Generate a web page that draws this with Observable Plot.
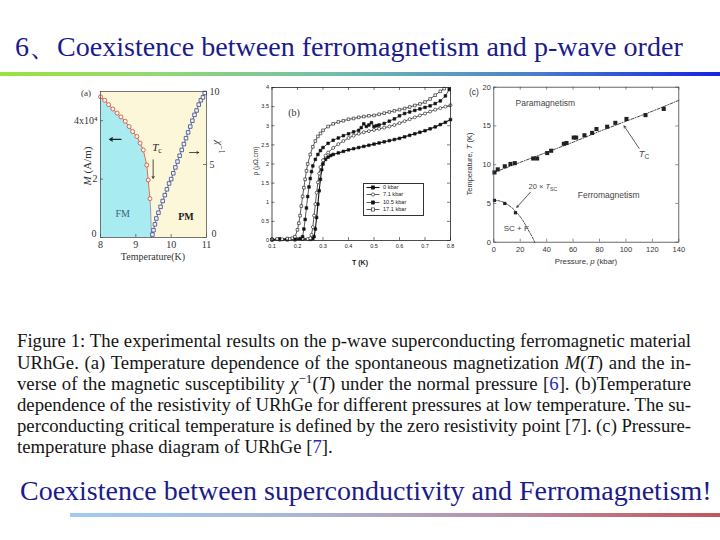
<!DOCTYPE html>
<html><head><meta charset="utf-8">
<script src="https://cdn.jsdelivr.net/npm/d3@7"></script>
<script src="https://cdn.jsdelivr.net/npm/@observablehq/plot@0.6"></script>
<style>
html,body{margin:0;padding:0;background:#fff;}
body{width:720px;height:540px;position:relative;overflow:hidden;}
.abs{position:absolute;}
.one{position:absolute;white-space:nowrap;line-height:1;}
.lab{position:absolute;white-space:nowrap;line-height:1;}
.lab sub{font-size:70%;vertical-align:-0.3em;line-height:0;}
.lab sup{font-size:70%;vertical-align:0.45em;line-height:0;}
.cap{position:absolute;left:17px;white-space:nowrap;line-height:1;font-family:'Liberation Serif',serif;color:#151515;}
.cap sup{font-size:70%;vertical-align:0.5em;line-height:0;}
.bl{color:#2a2ab0;}
#legb{position:absolute;left:363px;top:183px;width:59px;height:31px;border:0.8px solid #333;background:#fff;font-family:'Liberation Sans',sans-serif;font-size:5.6px;color:#222;}
#legb div{height:7.3px;line-height:7.3px;display:flex;align-items:center;padding-left:2px;}
#legb svg{margin-right:3px;}
</style></head><body>
<div id="title" class="one" style="font-family:'Liberation Serif',serif;font-size:26px;color:#1b1b8c;">6、Coexistence between ferromagnetism and p-wave order</div>
<div class="abs" style="left:0;top:72px;width:720px;height:4px;background:linear-gradient(to right,#9be23e 0%,#93d872 22%,#6fbcae 48%,#4b7fcc 74%,#1424e2 100%);"></div>
<div id="pa" class="abs" style="left:60px;top:80px;width:170px;height:190px;"></div>
<div id="pb" class="abs" style="left:250px;top:80px;width:215px;height:190px;"></div>
<div id="pc" class="abs" style="left:460px;top:75px;width:240px;height:200px;"></div>

<div class="cap" id="c0">Figure 1: The experimental results on the p-wave superconducting ferromagnetic material</div>
<div class="cap" id="c1">URhGe. (a) Temperature dependence of the spontaneous magnetization <i>M</i>(<i>T</i>) and the in-</div>
<div class="cap" id="c2">verse of the magnetic susceptibility <i>χ</i><sup>−1</sup>(<i>T</i>) under the normal pressure [<span class="bl">6</span>]. (b)Temperature</div>
<div class="cap" id="c3">dependence of the resistivity of URhGe for different pressures at low temperature. The su-</div>
<div class="cap" id="c4">perconducting critical temperature is defined by the zero resistivity point [7]. (c) Pressure-</div>
<div class="cap" id="c5">temperature phase diagram of URhGe [<span class="bl">7</span>].</div>

<div id="bottom" class="one" style="font-family:'Liberation Serif',serif;font-size:24px;color:#1b1b8c;">Coexistence between superconductivity and Ferromagnetism!</div>
<div class="abs" style="left:70px;top:513px;width:650px;height:4px;background:linear-gradient(to right,#9fcbf2 0%,#a9b6da 35%,#b892aa 65%,#c25656 100%);"></div>

<script>
// ---------- Panel (a): M(T) and inverse susceptibility ----------
const magT = [8.00, 8.12, 8.23, 8.35, 8.47, 8.58, 8.70, 8.81, 8.91, 9.03, 9.12, 9.21, 9.31, 9.35, 9.40];
const magM = [4.82, 4.70, 4.55, 4.40, 4.26, 4.13, 3.98, 3.80, 3.63, 3.46, 3.23, 3.00, 2.48, 1.97, 1.33];
const magEdgeT = [9.40, 9.42, 9.43, 9.44];
const magEdgeM = [1.33, 0.90, 0.45, 0.00];
const chiT = [9.47, 9.50, 9.54, 9.58, 9.64, 9.70, 9.76, 9.82, 9.88, 9.94, 10.00, 10.06, 10.12, 10.18, 10.24, 10.30, 10.36, 10.42, 10.48, 10.54, 10.60, 10.66, 10.72, 10.78, 10.84, 10.90, 10.95];
const chiV = [0.2, 0.5, 0.9, 1.3, 1.7, 2.1, 2.5, 2.9, 3.3, 3.7, 4.0, 4.4, 4.8, 5.2, 5.6, 6.0, 6.4, 6.8, 7.2, 7.6, 8.0, 8.4, 8.7, 9.1, 9.4, 9.6, 9.9];
const aTicksX = [8, 9, 10, 11];
const aTicksM = [0, 2, 4];
const aTicksChi = [0, 5, 10];

// ---------- Panel (b): resistivity vs T ----------
const bSeriesNames = ["0 kbar", "7.1 kbar", "10.5 kbar", "17.1 kbar"];
const b0T = [0.10,0.13,0.16,0.19,0.22,0.25,0.26,0.265,0.27,0.275,0.28,0.285,0.29,0.295,0.30,0.31,0.32,0.33,0.34,0.36,0.38,0.40,0.42,0.44,0.46,0.48,0.50,0.52,0.54,0.56,0.58,0.60,0.62,0.64,0.66,0.68,0.70,0.72,0.74,0.76,0.78,0.80];
const b0R = [0.02,0.04,0.03,0.02,0.04,0.03,0.05,0.10,0.30,0.60,0.95,1.30,1.60,1.85,2.00,2.12,2.18,2.22,2.25,2.29,2.33,2.37,2.40,2.43,2.46,2.49,2.52,2.55,2.58,2.61,2.64,2.67,2.71,2.75,2.79,2.83,2.87,2.92,2.97,3.03,3.09,3.16];
const b7T = [0.10,0.13,0.16,0.19,0.22,0.24,0.25,0.255,0.26,0.265,0.27,0.275,0.28,0.285,0.29,0.30,0.31,0.32,0.34,0.36,0.38,0.40,0.42,0.44,0.46,0.48,0.50,0.52,0.54,0.56,0.58,0.60,0.62,0.64,0.66,0.68,0.70,0.72,0.74,0.76,0.78,0.80];
const b7R = [0.03,0.02,0.04,0.03,0.05,0.04,0.06,0.15,0.35,0.65,0.95,1.25,1.52,1.75,1.92,2.10,2.22,2.30,2.42,2.52,2.60,2.68,2.74,2.79,2.83,2.86,2.89,2.92,2.95,2.98,3.02,3.07,3.12,3.17,3.22,3.27,3.32,3.37,3.42,3.46,3.50,3.54];
const b10T = [0.10,0.13,0.16,0.19,0.21,0.22,0.225,0.23,0.235,0.24,0.245,0.25,0.255,0.26,0.27,0.28,0.29,0.30,0.32,0.34,0.36,0.38,0.40,0.42,0.44,0.45,0.46,0.47,0.48,0.49,0.50,0.51,0.52,0.54,0.56,0.58,0.60,0.62,0.64,0.66,0.68,0.70,0.72,0.74,0.76,0.78,0.795];
const b10R = [0.02,0.03,0.02,0.04,0.05,0.10,0.30,0.55,0.85,1.15,1.40,1.62,1.80,1.95,2.12,2.25,2.35,2.43,2.54,2.62,2.68,2.74,2.79,2.84,2.88,2.95,3.05,2.98,3.02,3.08,2.98,3.00,3.02,3.06,3.12,3.18,3.26,3.32,3.36,3.40,3.44,3.48,3.52,3.58,3.65,3.78,3.95];
const b17T = [0.10,0.12,0.14,0.16,0.17,0.18,0.19,0.20,0.205,0.21,0.215,0.22,0.225,0.23,0.235,0.24,0.25,0.26,0.27,0.28,0.29,0.30,0.32,0.34,0.36,0.38,0.40,0.42,0.44,0.46,0.48,0.50,0.52,0.54,0.56,0.58,0.60,0.62,0.64,0.66,0.68,0.70,0.72,0.74,0.76,0.775];
const b17R = [0.03,0.04,0.03,0.05,0.04,0.06,0.10,0.28,0.45,0.65,0.90,1.15,1.38,1.60,1.82,2.00,2.25,2.45,2.60,2.72,2.80,2.88,2.98,3.05,3.10,3.13,3.17,3.19,3.22,3.24,3.26,3.27,3.30,3.33,3.36,3.39,3.42,3.45,3.49,3.53,3.57,3.62,3.70,3.80,3.90,3.97];
const bTicksX = [0.1, 0.2, 0.3, 0.4, 0.5, 0.6, 0.7, 0.8];
const bTicksY = [0, 0.5, 1, 1.5, 2, 2.5, 3, 3.5, 4];

// ---------- Panel (c): pressure-temperature phase diagram ----------
const tcP = [0.5, 3, 8.3, 12.6, 15.9, 29.8, 32.8, 40.4, 43.4, 53, 55, 60.5, 62.3, 68.6, 74.4, 77.7, 85.8, 92, 100.4, 114.8, 128.6];
const tcT = [9.0, 9.4, 9.8, 10.1, 10.2, 10.8, 10.8, 11.5, 11.8, 12.7, 12.8, 13.5, 13.5, 13.8, 14.1, 14.6, 14.9, 15.4, 15.9, 16.4, 17.2];
const tcFitP = [0, 20, 40, 60, 80, 100, 120, 140];
const tcFitT = [9.0, 10.3, 11.6, 12.9, 14.3, 15.6, 16.9, 18.3];
const scP = [0.5, 8.3, 16.4];
const scT = [5.4, 5.0, 3.8];
const scFitP = [0, 5, 10, 14, 18, 22, 26, 29, 31];
const scFitT = [5.4, 5.3, 4.9, 4.4, 3.7, 2.8, 1.6, 0.7, 0.0];
const cTicksX = [0, 20, 40, 60, 80, 100, 120, 140];
const cTicksY = [0, 5, 10, 15, 20];

// ---------- build tables ----------
const zip = (xs, ys, kx, ky) => xs.map((v, i) => ({[kx]: v, [ky]: ys[i]}));
const magData = zip(magT, magM, "T", "M");
const magEdge = zip(magEdgeT, magEdgeM, "T", "M");
const magArea = magData.concat(magEdge.slice(1));
const chiData = zip(chiT, chiV, "T", "chi");

const bSeries = [
  {name: bSeriesNames[0], data: zip(b0T, b0R, "T", "R"), symbol: "square", fill: "#111", sw: 1.1},
  {name: bSeriesNames[1], data: zip(b7T, b7R, "T", "R"), symbol: "circle", fill: "#fff", sw: 0.7},
  {name: bSeriesNames[2], data: zip(b10T, b10R, "T", "R"), symbol: "square", fill: "#111", sw: 0.7},
  {name: bSeriesNames[3], data: zip(b17T, b17R, "T", "R"), symbol: "square", fill: "#fff", sw: 0.7}
];
const tcData = zip(tcP, tcT, "P", "T");
const tcFit = zip(tcFitP, tcFitT, "P", "T");
const scData = zip(scP, scT, "P", "T");
const scFit = zip(scFitP, scFitT, "P", "T");
const fmt = d => String(d);

// ---------- Panel (a) ----------
const aW = 170, aH = 190, aML = 40, aMR = 24, aMT = 11, aMB = 33;
const aPW = aW - aML - aMR, aPH = aH - aMT - aMB;
const yellow = "#fcf7d8";
const pa = Plot.plot({
  width: aW, height: aH, marginLeft: aML, marginRight: aMR, marginTop: aMT, marginBottom: aMB,
  x: {domain: [8, 11]},
  y: {domain: [0, 5]},
  style: {fontFamily: "'Liberation Serif', serif", fontSize: "10px", color: "#333", background: "transparent", overflow: "visible"},
  marks: [
    Plot.frame({fill: yellow, stroke: null}),
    Plot.areaY(magArea, {x: "T", y: "M", fill: "#a8ecf2"}),
    Plot.line(magEdge, {x: "T", y: "M", stroke: "#7d8fb0", strokeWidth: 0.9}),
    Plot.line(magData, {x: "T", y: "M", stroke: "#d04848", strokeWidth: 0.8}),
    Plot.dot(magData, {x: "T", y: "M", r: 2, stroke: "#d04848", fill: yellow, strokeWidth: 0.8}),
    Plot.line(chiData, {x: "T", y: d => d.chi / 2, stroke: "#4a5aae", strokeWidth: 0.8}),
    Plot.dot(chiData, {x: "T", y: d => d.chi / 2, symbol: "square", r: 2, stroke: "#3344a4", fill: yellow, strokeWidth: 0.8}),
    Plot.tickX(aTicksX, {x: d => d, insetTop: aPH - 3, stroke: "#444", strokeWidth: 0.7}),
    Plot.tickY(aTicksM, {y: d => d, insetRight: aPW - 3, stroke: "#444", strokeWidth: 0.7}),
    Plot.tickY(aTicksChi, {y: d => d / 2, insetLeft: aPW - 3, stroke: "#444", strokeWidth: 0.7}),
    Plot.frame({stroke: "#555", strokeWidth: 0.8}),
    Plot.axisX({ticks: aTicksX, tickSize: 0, tickPadding: 3, label: null, tickFormat: fmt}),
    Plot.axisY({anchor: "left", ticks: aTicksM.slice(1), tickSize: 0, tickPadding: 3, label: null, tickFormat: d => d === 4 ? "4x10⁴" : String(d)}),
    Plot.axisY({anchor: "left", ticks: aTicksM.slice(0, 1), tickSize: 0, tickPadding: 4, dy: -4, label: null, tickFormat: fmt}),
    Plot.axisY({anchor: "right", ticks: aTicksChi.slice(1).map(v => v / 2), tickSize: 0, tickPadding: 3, label: null, tickFormat: d => String(d * 2)}),
    Plot.axisY({anchor: "right", ticks: aTicksChi.slice(0, 1).map(v => v / 2), tickSize: 0, tickPadding: 5, dy: -4, label: null, tickFormat: d => String(d * 2)}),
    Plot.text(["FM"], {x: 8.63, y: 0.82, text: d => d, fill: "#3a6676", fontSize: 10}),
    Plot.text(["PM"], {x: 10.42, y: 0.7, text: d => d, fill: "#222", fontSize: 10, fontWeight: "bold"}),
    Plot.arrow([0], {x1: 8.58, y1: 3.36, x2: 8.26, y2: 3.36, stroke: "#222", strokeWidth: 1.2, headLength: 4}),
    Plot.arrow([0], {x1: 10.52, y1: 2.91, x2: 10.78, y2: 2.91, stroke: "#222", strokeWidth: 0.8, headLength: 4}),
    Plot.arrow([0], {x1: 9.49, y1: 2.66, x2: 9.49, y2: 2.03, stroke: "#222", strokeWidth: 0.8, headLength: 4})
  ]
});
document.getElementById("pa").appendChild(pa);

// ---------- Panel (b) ----------
const bW = 215, bH = 190, bML = 21.5, bMR = 15, bMT = 7, bMB = 30;
const bPW = bW - bML - bMR, bPH = bH - bMT - bMB;
const bMarks = [Plot.frame({fill: "#fff", stroke: null})];
for (const s of bSeries) {
  bMarks.push(Plot.line(s.data, {x: "T", y: "R", stroke: "#111", strokeWidth: s.sw}));
}
for (const s of bSeries) {
  bMarks.push(Plot.dot(s.data, {x: "T", y: "R", symbol: s.symbol, r: 1.5, stroke: "#111", fill: s.fill, strokeWidth: 0.6}));
}
bMarks.push(
  Plot.tickX(bTicksX, {x: d => d, insetTop: bPH - 3, stroke: "#222", strokeWidth: 0.6}),
  Plot.tickX(bTicksX, {x: d => d, insetBottom: bPH - 3, stroke: "#222", strokeWidth: 0.6}),
  Plot.tickY(bTicksY, {y: d => d, insetRight: bPW - 3, stroke: "#222", strokeWidth: 0.6}),
  Plot.tickY(bTicksY, {y: d => d, insetLeft: bPW - 3, stroke: "#222", strokeWidth: 0.6}),
  Plot.frame({stroke: "#222", strokeWidth: 0.8}),
  Plot.axisX({ticks: bTicksX, tickSize: 0, tickPadding: 3.5, label: null, tickFormat: d3.format(".1f")}),
  Plot.axisY({ticks: bTicksY, tickSize: 0, tickPadding: 3, label: null, tickFormat: fmt})
);
const pb = Plot.plot({
  width: bW, height: bH, marginLeft: bML, marginRight: bMR, marginTop: bMT, marginBottom: bMB,
  x: {domain: [0.1, 0.8]}, y: {domain: [0, 4]},
  style: {fontFamily: "'Liberation Sans', sans-serif", fontSize: "5.5px", color: "#222", background: "transparent", overflow: "visible"},
  marks: bMarks
});
document.getElementById("pb").appendChild(pb);

// ---------- Panel (c) ----------
const cW = 240, cH = 200, cML = 33.3, cMR = 21.7, cMT = 11.7, cMB = 33.3;
const cPW = cW - cML - cMR, cPH = cH - cMT - cMB;
const pc = Plot.plot({
  width: cW, height: cH, marginLeft: cML, marginRight: cMR, marginTop: cMT, marginBottom: cMB,
  x: {domain: [0, 140]}, y: {domain: [0, 20]},
  style: {fontFamily: "'Liberation Sans', sans-serif", fontSize: "7.5px", color: "#333", background: "transparent", overflow: "visible"},
  marks: [
    Plot.frame({fill: "#fff", stroke: null}),
    Plot.line(tcFit, {x: "P", y: "T", stroke: "#333", strokeWidth: 0.9, strokeDasharray: "3,1.5,1,1.5"}),
    Plot.dot(tcData, {x: "P", y: "T", symbol: "square", r: 2.3, fill: "#222", stroke: null}),
    Plot.line(scFit, {x: "P", y: "T", stroke: "#333", strokeWidth: 0.9, strokeDasharray: "2.5,1.5", curve: "monotone-x"}),
    Plot.dot(scData, {x: "P", y: "T", symbol: "square", r: 1.8, fill: "#222", stroke: null}),
    Plot.tickX(cTicksX, {x: d => d, insetTop: cPH - 3, stroke: "#444", strokeWidth: 0.6}),
    Plot.tickX(cTicksX, {x: d => d, insetBottom: cPH - 3, stroke: "#444", strokeWidth: 0.6}),
    Plot.tickY(cTicksY, {y: d => d, insetRight: cPW - 3, stroke: "#444", strokeWidth: 0.6}),
    Plot.tickY(cTicksY, {y: d => d, insetLeft: cPW - 3, stroke: "#444", strokeWidth: 0.6}),
    Plot.frame({stroke: "#444", strokeWidth: 0.8}),
    Plot.axisX({ticks: cTicksX, tickSize: 0, tickPadding: 4, label: null, tickFormat: fmt}),
    Plot.axisY({ticks: cTicksY, tickSize: 0, tickPadding: 3, label: null, tickFormat: fmt}),
    Plot.text(["Paramagnetism"], {x: 16.5, y: 17.9, text: d => d, textAnchor: "start", fontSize: 8.5, fill: "#444"}),
    Plot.text(["Ferromagnetism"], {x: 63.5, y: 6.0, text: d => d, textAnchor: "start", fontSize: 8.5, fill: "#444"}),
    Plot.text(["SC + F"], {x: 7.5, y: 1.75, text: d => d, textAnchor: "start", fontSize: 8, fill: "#444"}),
    Plot.arrow([0], {x1: 110, y1: 12.1, x2: 98.6, y2: 15.0, stroke: "#333", strokeWidth: 0.8, headLength: 4}),
    Plot.arrow([0], {x1: 27.7, y1: 6.45, x2: 17.4, y2: 4.5, stroke: "#333", strokeWidth: 0.8, headLength: 4})
  ]
});
document.getElementById("pc").appendChild(pc);

// ---------- HTML labels ----------
function lab(html, cx, cy, css, rot) {
  const d = document.createElement("div");
  d.className = "lab";
  d.innerHTML = html;
  d.style.cssText = css;
  d.style.left = cx + "px";
  d.style.top = cy + "px";
  d.style.transform = "translate(-50%,-50%)" + (rot ? ` rotate(${rot}deg)` : "");
  document.body.appendChild(d);
}
const serif = "font-family:'Liberation Serif',serif;color:#333;";
const sans = "font-family:'Liberation Sans',sans-serif;color:#333;";
lab("(a)", 86, 93, serif + "font-size:9px;");
lab("<i>M</i> (A/m)", 87, 166, serif + "font-size:11px;", -90);
lab("<i>χ</i><sup>−1</sup>", 219, 147, serif + "font-size:11px;", 90);
lab("Temperature(K)", 153, 257, serif + "font-size:10px;");
lab("<i>T</i><sub>c</sub>", 157, 147, serif + "font-size:11px;color:#222;");
lab("(b)", 294, 113, serif + "font-size:10px;");
lab("ρ (μΩ.cm)", 256, 161, sans + "font-size:6.5px;", -90);
lab("T (K)", 360, 262, sans + "font-size:7px;font-weight:bold;color:#222;");
lab("(c)", 474, 92, sans + "font-size:8.5px;");
lab("Temperature, <i>T</i> (K)", 470, 164, sans + "font-size:7.5px;", -90);
lab("Pressure, <i>p</i> (kbar)", 586, 262, sans + "font-size:7.8px;");
lab("<i>T</i><sub>C</sub>", 644, 154, sans + "font-size:9.5px;color:#444;");
lab("20 × <i>T</i><sub>SC</sub>", 543, 187, sans + "font-size:7.5px;color:#444;");

// legend for panel (b)
const leg = document.createElement("div");
leg.id = "legb";
leg.innerHTML = bSeries.map(s => {
  const mk = s.symbol === "circle"
    ? `<circle cx="7" cy="3.5" r="1.6" fill="${s.fill}" stroke="#111" stroke-width="0.6"/>`
    : `<rect x="5.4" y="1.9" width="3.2" height="3.2" fill="${s.fill}" stroke="#111" stroke-width="0.6"/>`;
  return `<div><svg width="14" height="7"><line x1="0.5" y1="3.5" x2="13.5" y2="3.5" stroke="#111" stroke-width="${s.sw}"/>${mk}</svg>${s.name}</div>`;
}).join("");
document.body.appendChild(leg);

// ---------- fit titles and caption ----------
function place(el, left, baseline, width) {
  let fs = parseFloat(getComputedStyle(el).fontSize);
  const w = el.getBoundingClientRect().width;
  fs = fs * width / w;
  el.style.fontSize = fs + "px";
  el.style.left = left + "px";
  el.style.top = (baseline - 0.8375 * fs) + "px";
}
place(document.getElementById("title"), 15, 57, 668);
place(document.getElementById("bottom"), 20, 500, 692);

const capLines = [0, 1, 2, 3, 4, 5].map(i => document.getElementById("c" + i));
let cfs = 16;
capLines.forEach(el => el.style.fontSize = cfs + "px");
const lw = capLines[5].getBoundingClientRect().width;
cfs = cfs * 316 / lw;
capLines.forEach((el, i) => {
  el.style.fontSize = cfs + "px";
  el.style.top = (348 + i * 21.2 - 0.8375 * cfs) + "px";
});
capLines.slice(0, 5).forEach(el => {
  const w = el.getBoundingClientRect().width;
  const n = (el.textContent.match(/ /g) || []).length;
  el.style.wordSpacing = ((674 - w) / n) + "px";
});
</script>
</body></html>
